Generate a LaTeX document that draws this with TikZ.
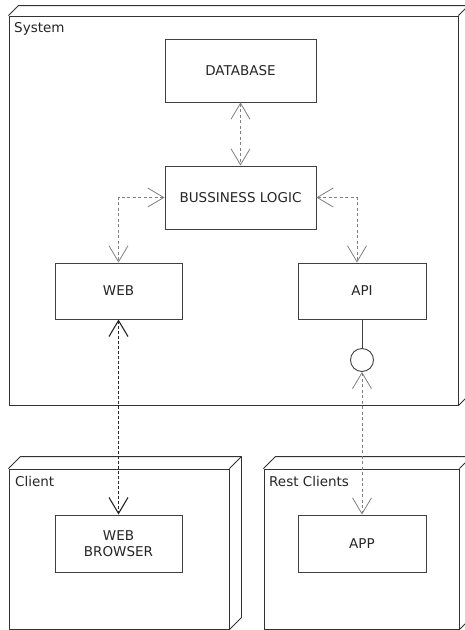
\documentclass[tikz,border=0pt]{standalone}
\usepackage{fontspec}
\setmainfont{DejaVu Sans}
\usetikzlibrary{arrows.meta}
\begin{document}
\begin{tikzpicture}[x=1pt,y=-1pt,
  box/.style={draw=black!75, line width=0.9pt, fill=white, inner sep=0pt,
    font=\fontsize{13.5}{16}\selectfont, text=black!85, align=center},
  frontface/.style={draw=black!80, line width=0.9pt, fill=white, inner sep=0pt},
  edge3d/.style={draw=black!80, line width=0.9pt},
  lbl/.style={anchor=north west, inner sep=0pt, font=\fontsize{13.5}{16}\selectfont, text=black!85},
  conn/.style={draw=black!50, line width=0.8pt, dash pattern=on 3pt off 2.5pt, {Straight Barb[length=16pt,width=19pt]}-{Straight Barb[length=16pt,width=19pt]}},
  connd/.style={conn, draw=black!85, line width=1.1pt, dash pattern=on 3pt off 2pt}]
\useasboundingbox (0,0) rectangle (465,630);
% System node
\node[frontface, minimum width=449pt, minimum height=389pt] (sys) at (233.5,210.5) {};
\draw[edge3d] (sys.north west) -- ++(10,-10) -- ([shift={(10,-10)}]sys.north east) -- ([shift={(10,-10)}]sys.south east) -- (sys.south east);
\draw[edge3d] (sys.north east) -- ++(10,-10);
\node[lbl] (syslbl) at (14,22) {System};
% Client node
\node[frontface, minimum width=220pt, minimum height=160pt] (cli) at (119,549) {};
\draw[edge3d] (cli.north west) -- ++(12,-12) -- ([shift={(12,-12)}]cli.north east) -- ([shift={(12,-12)}]cli.south east) -- (cli.south east);
\draw[edge3d] (cli.north east) -- ++(12,-12);
\node[lbl] (clilbl) at (15,476) {Client};
% Rest Clients node
\node[frontface, minimum width=195pt, minimum height=160pt] (rest) at (361.5,549) {};
\draw[edge3d] (rest.north west) -- ++(12,-12) -- ([shift={(12,-12)}]rest.north east) -- ([shift={(12,-12)}]rest.south east) -- (rest.south east);
\draw[edge3d] (rest.north east) -- ++(12,-12);
\node[lbl] (restlbl) at (269,476) {Rest Clients};
% Components
\node[box, minimum width=151pt, minimum height=63pt] (db) at (240.5,70.5) {DATABASE};
\node[box, minimum width=151pt, minimum height=63pt] (bl) at (240.5,197.5) {BUSSINESS LOGIC};
\node[box, minimum width=127pt, minimum height=56pt] (web) at (118.5,291) {WEB};
\node[box, minimum width=128pt, minimum height=56pt] (api) at (362,291) {API};
\node[box, minimum width=127pt, minimum height=57pt] (wb) at (118.5,543.5) {WEB\\BROWSER};
\node[box, minimum width=128pt, minimum height=57pt] (app) at (362,543.5) {APP};
\node[draw=black!75, line width=0.9pt, circle, minimum size=23pt, inner sep=0pt, fill=white] (lol) at (362,360) {};
% Connectors
\coordinate (apin) at ([xshift=-5pt]api.north);
\draw[conn] (db.south) -- (bl.north);
\draw[conn] (bl.west) -| (web.north);
\draw[conn] (bl.east) -| (apin);
\draw[connd] (web.south) -- (wb.north);
\draw[draw=black!75, line width=0.9pt] (api.south) -- (lol.north);
\draw[conn] (lol.south) -- (app.north);
\end{tikzpicture}
\end{document}
